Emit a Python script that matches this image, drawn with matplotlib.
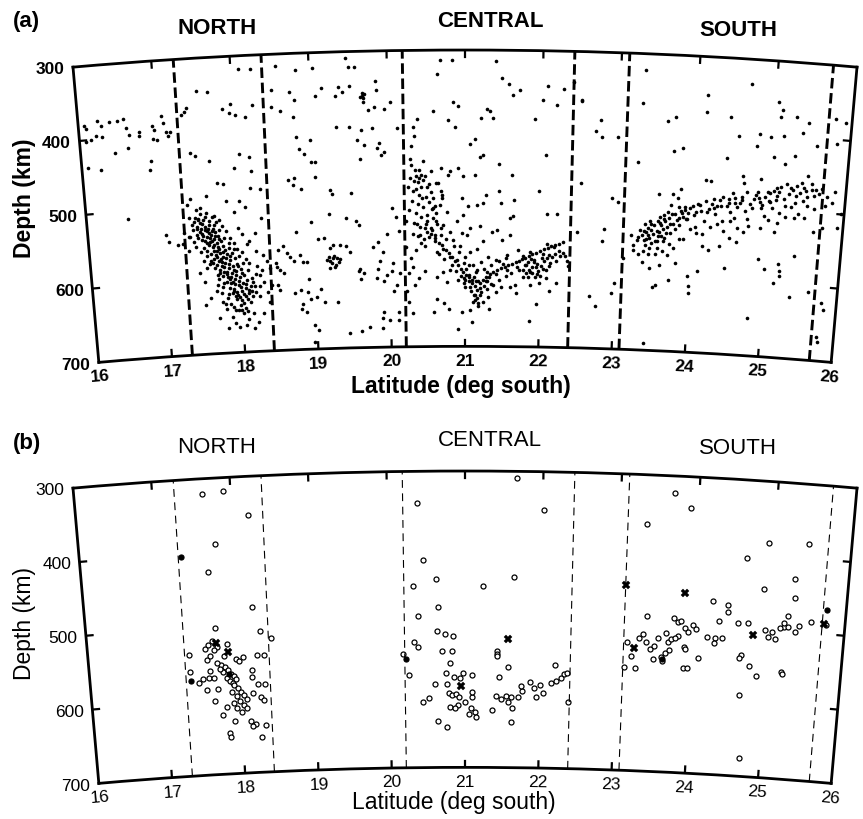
import numpy as np
import matplotlib
matplotlib.use("Agg")
import matplotlib.pyplot as plt

plt.rcParams['font.family'] = ['Liberation Sans', 'DejaVu Sans']

EARTH_R = 6371.0
lat_ticks = list(range(16, 27))
depth_ticks = [300, 400, 500, 600, 700]
region_names = ["NORTH", "CENTRAL", "SOUTH"]
region_lat = [17.86, 21.32, 24.46]
boundaries = [17.28, 18.4, 20.2, 22.4, 23.1, 25.7]

# ---- panel (a): all events, (lat deg south, depth km)
a_far_north = [(16.08,380),(16.1,385),(16.25,375),(16.3,382),(16.4,378),(16.5,377),(16.58,375),
    (16.22,395),(16.3,397),(16.15,400),(16.08,402),(16.62,388),(16.65,397),(16.78,395),(16.78,400),
    (16.95,388),(16.97,393),(16.95,405),(17.0,407),(17.08,375),(17.1,385),(17.12,397),(17.18,397),
    (16.45,420),(16.62,415),(16.08,437),(16.25,442),(16.9,435),(16.88,447),(17.15,402),(16.55,511),
    (17.03,536),(17.07,545),(17.18,550)]
a_north_upper = [(17.55,344),(17.68,347),(17.34,375),(17.37,371),(17.4,366),(17.86,371),(17.97,364),
    (17.95,376),(18.03,380),(18.16,383),(18.26,367),(18.1,318),(18.25,318),(17.42,427),(17.48,432),
    (18.05,432),(18.18,437),(17.66,440),(17.98,451),(18.2,456),(17.75,470),(17.82,472),(18.18,479),
    (18.31,481),(18.02,496),(17.34,497),(17.38,490),(17.6,487),(17.85,495),(18.1,505),(18.3,520),
    (18.22,540),(17.35,515)]
a_north_scatter = [(17.25,549),(17.27,535),(17.33,541),(17.32,559),(17.45,531),(17.47,517),(17.51,503),
    (17.56,515),(17.69,514),(17.75,520),(17.95,510),(17.99,532),(18.04,541),(18.13,551),(18.1,555),
    (18.21,565),(18.3,570),(18.35,579),(18.39,588),(18.41,611),(18.35,620),(18.37,634),(18.28,648),
    (18.21,661),(18.15,668),(18.04,664),(17.95,666),(17.86,652),(17.8,666),(17.91,643),(17.78,634),
    (17.66,616),(17.69,607),(17.51,603),(17.55,584),(17.61,574),(17.51,574),(17.74,631),(17.99,643),
    (18.15,648),(18.24,625),(18.3,607),(17.51,634),(17.69,652),(18.25,597),(18.12,580),(17.45,590),
    (17.58,625),(18.08,655),(17.9,660)]
a_north_core = [(17.42,521),(17.47,518),(17.52,524),(17.45,527),(17.5,530),(17.56,528),(17.61,526),
    (17.4,532),(17.48,535),(17.55,533),(17.6,537),(17.66,531),(17.52,540),(17.58,542),(17.63,539),
    (17.69,536),(17.46,543),(17.55,547),(17.61,549),(17.67,545),(17.72,541),(17.59,553),(17.64,556),
    (17.7,551),(17.76,548),(17.53,556),(17.66,561),(17.72,559),(17.78,555),(17.62,565),(17.68,567),
    (17.74,564),(17.8,561),(17.86,558),(17.65,572),(17.71,575),(17.77,570),(17.83,567),(17.9,565),
    (17.69,580),(17.75,582),(17.8,578),(17.86,575),(17.93,572),(17.72,588),(17.78,590),(17.84,586),
    (17.9,583),(17.96,580),(17.76,596),(17.82,598),(17.88,593),(17.94,590),(18.0,588),(17.8,604),
    (17.86,606),(17.92,601),(17.98,598),(18.04,596),(17.84,612),(17.9,614),(17.96,609),(18.02,606),
    (18.08,603),(17.88,620),(17.95,622),(18.0,617),(18.06,614),(18.12,611),(17.93,628),(18.0,630),
    (18.05,625),(18.1,621),(17.98,636),(18.05,640),(18.11,633),(17.58,534),(17.64,548),(17.7,562),
    (17.76,577),(17.82,591),(17.88,605),(17.94,618),(17.5,546),(17.57,561),(17.63,578),(17.69,594),
    (17.75,610),(17.81,626),(17.62,520),(17.68,527),(17.74,534),(17.8,545),(17.86,552),(17.92,560),
    (17.98,570),(18.04,580),(18.1,590),(18.15,600),(18.18,612),(17.44,538),(17.4,548),(17.7,600),
    (17.73,618),(17.85,634),(17.78,640),(18.14,625),(18.2,595),(18.22,585),(17.38,525),(17.35,540)]
a_north_extra = [(17.43,515),(17.49,522),(17.54,519),(17.59,531),(17.64,534),(17.51,538),(17.57,550),
    (17.62,544),(17.68,541),(17.73,546),(17.66,553),(17.71,556),(17.77,563),(17.69,570),(17.74,573),
    (17.81,572),(17.87,569),(17.78,584),(17.84,580),(17.91,588),(17.97,584),(17.81,594),(17.87,598),
    (17.93,596),(18.01,593),(17.85,601),(17.91,608),(17.97,604),(18.06,608),(17.89,617),(17.99,612),
    (18.03,621),(18.09,617),(17.92,624),(17.97,625),(18.02,634),(18.08,628),(18.13,618),(17.95,643),
    (18.01,647),(18.07,645),(17.88,638),(17.82,620),(17.76,605),(17.72,592),(17.66,585),(17.6,578),
    (17.56,568),(17.48,562),(17.42,555),(18.16,606),(18.19,620),(18.25,612),(18.28,590),(18.08,575),
    (18.03,565),(17.97,560),(17.93,552),(17.88,545),(17.83,535),(17.78,528),(17.71,522),(17.66,515),
    (17.58,510),(17.5,511),(17.45,505)]
a_gap_upper = [(18.57,316),(18.83,323),(19.04,321),(19.47,309),(19.51,321),(19.58,321),(18.51,348),
    (19.15,348),(19.37,348),(19.51,346),(19.85,341),(18.74,352),(18.8,363),(19.07,359),(19.33,359),
    (19.42,355),(19.67,357),(19.69,363),(19.85,353),(19.68,368),(19.75,380),(19.83,376),(19.95,378),
    (20.03,369),(18.5,371),(18.61,377),(18.78,386),(19.33,402),(19.5,402),(19.65,406),(19.8,404),
    (20.12,404),(18.8,413),(18.99,418),(19.6,420),(19.69,427),(19.86,431),(19.95,436),(19.88,424),
    (18.84,429),(18.9,436),(18.99,448),(19.04,448),(19.63,445),(19.9,440),(18.68,470),(18.76,468),
    (18.74,477),(18.85,484),(19.04,468),(19.23,486),(19.5,491),(19.25,491),(19.67,360),(19.7,358),
    (19.65,362)]
a_gap_lower = [(18.51,564),(18.58,560),(18.62,569),(18.67,575),(18.71,580),(18.8,573),(18.84,582),
    (18.89,582),(18.47,582),(18.49,587),(18.53,591),(18.58,596),(18.49,612),(18.51,619),(18.71,623),
    (18.8,619),(18.91,605),(18.89,623),(18.93,632),(19.0,630),(19.07,619),(19.11,637),(19.04,551),
    (19.13,551),(19.2,564),(19.24,560),(19.33,561),(19.42,562),(19.47,570),(19.56,529),(19.6,534),
    (19.42,524),(19.2,519),(18.96,528),(18.76,541),(19.24,578),(19.2,582),(19.29,578),(19.22,585),
    (19.27,587),(19.33,580),(19.2,591),(19.16,580),(19.25,575),(19.31,583),(19.19,577),(19.26,590),
    (18.82,639),(18.8,646),(18.87,650),(18.96,668),(19.02,675),(18.96,691),(19.44,680),(19.6,678),
    (19.71,673),(19.89,674),(19.98,663),(19.29,637),(19.6,594),(19.64,599),(19.6,608),(19.58,596),
    (19.78,565),(19.84,558),(19.91,571),(19.87,584),(19.84,594),(19.82,607),(19.91,611),(19.96,603),
    (20.02,598),(20.04,587),(20.09,617),(20.04,625),(20.13,600),(20.13,543),(20.04,512),(20.09,524),
    (19.96,548),(19.89,660),(19.91,653),(20.11,664),(20.11,653)]
a_central_upper = [(20.68,314),(20.83,314),(21.39,314),(20.64,332),(21.47,338),(21.56,345),(21.71,353),
    (21.62,361),(22.07,348),(22.27,351),(22.4,341),(22.51,367),(22.0,367),(22.18,373),(21.28,379),
    (21.32,382),(21.21,392),(21.36,392),(20.59,382),(20.85,370),(20.91,376),(21.9,392),(20.87,404),
    (20.78,395),(21.13,420),(21.06,427),(22.05,441),(21.24,441),(21.19,445),(21.45,454),(21.62,469),
    (20.68,459),(20.64,479),(20.98,470),(21.13,468),(20.91,459),(20.78,468),(20.8,463),(20.68,490),
    (20.7,495),(21.28,495),(21.45,490),(21.97,490),(20.96,500),(21.65,502),(20.38,393),(20.32,403),
    (20.34,416),(20.3,429),(20.36,470),(20.4,473),(20.42,485)]
a_central_lower = [(20.22,530),(20.36,535),(20.31,548),(20.4,549),(20.47,540),(20.47,564),(20.31,593),
    (20.38,608),(20.47,598),(20.33,617),(20.58,513),(20.67,509),(20.76,518),(20.62,531),(20.56,543),
    (20.71,536),(20.6,549),(20.8,545),(20.89,531),(20.98,522),(21.04,511),(21.16,509),(21.24,506),
    (21.47,506),(21.6,527),(21.64,524),(22.09,520),(22.22,520),(21.07,540),(20.96,547),(21.02,549),
    (21.2,538),(21.36,545),(21.42,543),(21.49,556),(21.6,549),(21.24,558),(21.16,568),(21.07,572),
    (20.93,565),(20.84,556),(20.71,568),(20.62,572),(20.8,579),(20.89,583),(20.98,588),(21.11,590),
    (21.22,586),(21.31,579),(21.42,583),(21.51,588),(21.56,577),(21.71,570),(21.78,577),(21.87,572),
    (22.09,561),(22.18,565),(21.96,588),(21.69,593),(21.56,597),(21.42,602),(21.29,599),(21.16,597),
    (21.02,595),(20.8,597),(20.71,599),(20.62,606),(20.76,613),(20.91,611),(20.98,615),(21.07,620),
    (21.16,624),(21.13,631),(21.11,640),(21.18,645),(21.24,640),(21.31,633),(21.42,627),(21.49,620),
    (21.6,620),(21.67,617),(21.78,606),(21.87,599),(21.96,602),(22.04,595),(22.13,590),(22.22,583),
    (22.27,577),(22.31,572),(22.09,606),(22.0,613),(22.13,624),(22.22,613),(21.87,617),(21.38,617),
    (20.62,636),(20.71,642),(20.58,654),(20.78,649),(20.96,654),(21.07,651),(21.87,665),(20.91,676),
    (21.09,667),(21.33,649),(21.96,642),(21.69,627)]
a_central_core = [(20.3,455),(20.35,462),(20.42,468),(20.28,472),(20.38,478),(20.45,475),(20.5,485),
    (20.32,490),(20.4,495),(20.48,498),(20.55,492),(20.3,503),(20.38,508),(20.45,512),(20.52,505),
    (20.6,510),(20.35,520),(20.42,525),(20.5,522),(20.58,527),(20.33,533),(20.4,538),(20.48,535),
    (20.55,540),(20.63,535),(20.38,550),(20.45,555),(20.52,552),(20.6,558),(20.68,550),(20.28,447),
    (20.45,450),(20.55,463),(20.25,485),(20.62,480),(20.7,500),(20.26,515),(20.5,545),(20.42,560),
    (20.35,570),(20.28,580),(20.22,565),(20.25,600),(20.22,625),(20.25,640),(20.3,655),
    (21.8,590),(21.84,585),(21.88,582),(21.92,586),(21.95,592),(21.86,596),(21.82,600),(21.9,600),
    (21.98,598),(22.02,590),(22.05,584),(22.1,580),(22.14,586),(22.0,604),(21.94,606),(21.78,596),
    (22.08,596),(22.16,578),(22.2,574),(21.9,592),(22.04,575),(21.85,606),(22.33,576),(22.36,583),
    (22.38,590),(20.95,605),(21.0,610),(21.05,612),(21.1,615),(21.14,618),(21.2,621),(21.25,618),
    (21.3,622),(21.35,616),(21.05,603),(21.12,607),(21.18,612),(21.22,627),(21.16,635),(21.14,638),
    (21.17,641),(21.12,630),(21.28,612),(21.32,606),(21.0,620)]
a_central_extra = [(20.55,548),(20.6,553),(20.65,560),(20.7,563),(20.75,570),(20.78,574),(20.83,580),
    (20.86,585),(20.9,590),(20.94,596),(20.97,600),(21.02,604),(21.06,607),(21.1,610),(21.15,612),
    (21.2,614),(21.24,610),(21.28,606),(21.33,602),(21.38,600),(21.43,597),(21.48,594),(21.53,593),
    (21.58,590),(21.63,588),(21.68,586),(21.72,584),(21.76,582),(21.8,580),(21.85,577),(21.9,575),
    (21.95,573),(22.0,571),(22.05,568),(22.1,566),(22.15,563),(22.2,562),(22.25,560),(22.3,558),
    (20.65,575),(20.72,582),(20.82,590),(20.88,598),(20.98,608),(21.08,625),(21.2,630),(21.3,612),
    (21.45,610),(21.55,605),(21.62,600),(21.72,597),(21.82,590),(21.92,583),(22.03,580),(22.12,575),
    (22.25,570),(20.5,530),(20.57,515),(20.44,500),(20.36,487),(20.33,477),(20.4,462),(20.48,470),
    (20.53,480),(20.58,500),(20.62,520),(20.68,540),(20.75,555),(20.85,565),(20.92,572),(21.0,580),
    (21.05,590),(21.15,600),(21.25,595),(21.35,590),(21.45,585),(21.55,580)]
a_south_upper = [(23.31,322),(23.29,367),(24.12,352),(24.12,375),(24.44,380),(24.68,333),(25.04,355),
    (25.1,366),(25.08,375),(25.29,373),(25.44,380),(23.63,389),(23.73,384),(24.55,404),(24.82,400),
    (24.8,416),(24.97,403),(25.14,400),(25.38,394),(25.57,410),(25.83,406),(25.79,372),(25.92,376),
    (23.72,430),(23.84,425),(24.42,435),(25.02,430),(25.17,438),(25.3,426),(24.16,466),(24.23,468),
    (24.64,458),(24.66,467),(24.88,461),(24.86,486),(25.0,478),(25.09,471),(25.22,465),(25.35,467),
    (25.48,452),(25.55,470),(23.84,481),(23.73,488),(23.55,489),(23.26,446),(22.76,392),(22.78,415),
    (22.99,414),(22.51,366),(22.7,406),(22.52,477),(22.93,497)]
a_south_lower = [(22.49,543),(22.67,630),(22.76,643),(22.84,539),(22.82,555),(22.96,625),(23.0,611),
    (23.02,502),(23.11,577),(23.2,546),(23.24,559),(23.28,552),(23.37,539),(23.46,530),(23.55,525),
    (23.63,516),(23.72,502),(23.81,493),(23.9,509),(23.37,566),(23.44,570),(23.55,561),(23.63,552),
    (23.72,541),(23.83,529),(23.94,520),(23.98,534),(24.07,538),(24.16,522),(24.2,509),(24.29,504),
    (24.38,500),(24.47,490),(24.56,495),(24.64,486),(24.78,500),(24.91,495),(25.0,490),(25.09,488),
    (25.22,495),(25.35,490),(25.44,486),(25.4,504),(25.22,509),(25.13,518),(25.09,531),(24.33,525),
    (24.51,520),(24.73,516),(24.6,529),(24.42,534),(24.16,556),(24.24,561),(24.38,554),(24.51,543),
    (24.6,547),(24.69,534),(24.91,527),(25.0,515),(25.48,509),(25.61,527),(25.72,520),(25.74,490),
    (25.83,486),(25.96,500),(25.92,518),(23.77,561),(23.9,547),(23.6,584),(23.46,589),(23.81,581),
    (23.72,604),(23.98,597),(24.0,611),(24.11,590),(24.47,584),(24.91,568),(25.0,581),(25.18,574),
    (25.2,583),(25.2,590),(25.38,561),(25.13,599),(25.36,617),(25.61,608),(25.79,622),(25.83,631),
    (25.77,667),(25.79,674),(24.82,649),(24.0,620),(23.42,690),(23.55,611),(23.51,615),(23.31,570),
    (23.37,581),(23.24,566)]
a_south_core = [(23.35,545),(23.4,540),(23.42,535),(23.45,548),(23.5,543),(23.5,530),(23.55,538),
    (23.58,528),(23.6,545),(23.62,535),(23.65,525),(23.68,532),(23.7,520),(23.75,528),(23.78,515),
    (23.8,522),(23.85,510),(23.88,518),(23.9,505),(23.95,512),(24.0,503),(24.05,510),(23.48,555),
    (23.55,552),(23.4,558),(23.65,548),(23.72,555),(23.58,520),(23.68,512),(23.82,505),(24.1,500),
    (23.3,548),(23.38,552),(23.45,525),(24.25,498),(24.35,492),(24.45,500),(24.55,488),(24.62,495),
    (24.7,480),(24.8,488),(24.85,478),(24.95,485),(25.05,475),(25.1,482),(25.15,470),(25.25,478),
    (25.3,472),(25.4,476),(25.45,468),(25.5,480),(25.55,462),(25.6,470),(25.65,475),(24.3,512),
    (24.5,508),(24.7,505),(24.9,500),(25.05,498),(25.3,496),(25.5,492)]
a_south_extra = [(23.32,538),(23.38,530),(23.43,545),(23.47,538),(23.52,552),(23.56,545),(23.6,530),
    (23.63,522),(23.67,540),(23.71,528),(23.74,515),(23.78,535),(23.83,520),(23.87,512),(23.92,520),
    (23.97,505),(24.02,515),(24.07,500),(24.12,508),(24.18,495),(24.22,505),(24.28,492),(24.32,500),
    (24.4,488),(24.48,495),(24.52,482),(24.58,500),(24.65,490),(24.75,495),(24.82,482),(24.88,492),
    (24.98,478),(25.02,490),(25.12,477),(25.2,485),(25.28,470),(25.35,480),(25.42,462),(25.48,472),
    (25.58,478),(25.68,468),(25.76,478),(25.85,470),(23.45,562),(23.53,570),(23.62,565),(23.7,570),
    (23.85,548),(24.05,530),(24.15,540),(24.25,530),(24.4,520),(24.55,515),(24.75,525),(24.95,510),
    (25.15,505),(25.35,510),(25.6,495),(23.4,550),(23.58,540)]

# ---- panel (b): relocated events (circles), crosses and a few solid dots
b_north = [(17.63,321),(17.91,318),(18.21,352),(17.77,389),(17.65,426),(18.2,477),(17.71,502),
    (17.34,537),(17.34,560),(17.55,585),(17.5,570),(17.58,569),(17.65,570),(17.55,530),(17.6,525),
    (17.65,520),(17.72,528),(17.8,540),(17.57,545),(17.62,540),(17.68,532),(17.85,525),(17.76,553),
    (17.8,556),(17.84,560),(17.88,565),(17.92,568),(17.78,562),(17.82,570),(17.86,575),(17.9,577),
    (17.95,573),(17.74,558),(17.92,580),(17.96,585),(18.0,590),(18.04,595),(18.08,600),(17.95,595),
    (17.98,603),(18.03,608),(18.07,612),(17.9,605),(17.93,612),(18.0,618),(17.88,590),(18.12,630),
    (18.18,634),(18.14,637),(17.9,629),(17.83,645),(17.83,650),(18.25,652),(18.32,636),(18.3,510),
    (18.44,520),(18.24,542),(18.33,542),(18.16,562),(18.16,571),(18.23,581),(18.33,581),(18.16,592),
    (18.26,598),(18.3,603),(17.96,545),(18.0,548),(18.05,543),(17.7,550),(17.6,560),(17.7,585),
    (17.45,575),(17.65,600),(17.8,610),(17.75,620)]
b_central = [(20.38,343),(20.46,420),(20.32,455),(20.38,496),(21.66,309),(22.02,352),(20.62,445),
    (21.23,455),(21.64,443),(20.64,483),(20.63,516),(20.73,520),(20.84,523),(20.7,543),(20.83,543),
    (20.8,559),(20.74,572),(20.85,578),(20.97,572),(21.1,575),(20.6,587),(20.76,587),(20.93,580),
    (20.78,600),(20.82,602),(20.88,601),(20.92,605),(21.0,612),(21.1,605),(20.9,616),(20.8,618),
    (20.86,620),(21.1,598),(21.08,620),(21.13,625),(21.05,628),(21.15,632),(20.64,637),(20.76,646),
    (21.36,623),(21.42,543),(21.43,547),(21.42,550),(21.57,564),(21.46,578),(21.42,603),(21.48,608),
    (21.55,603),(21.62,605),(21.58,612),(21.63,620),(21.62,639),(21.71,604),(21.77,597),(21.75,590),
    (21.87,584),(21.92,592),(22.0,588),(22.05,599),(22.15,585),(22.22,582),(22.28,578),(22.32,573),
    (22.36,571),(22.2,560),(21.95,604),(22.38,610),(20.33,530),(20.38,537),(20.25,575),(20.44,612),
    (20.52,606),(20.18,546)]
b_south = [(23.68,323),(23.9,342),(23.34,366),(24.93,383),(25.45,380),(24.66,405),(25.3,429),
    (24.9,446),(25.32,455),(24.25,466),(24.45,470),(24.45,480),(23.4,491),(23.75,491),(24.35,493),
    (24.6,493),(24.72,493),(25.25,480),(25.2,495),(25.25,495),(25.75,488),(23.15,527),(23.2,545),
    (23.27,561),(23.12,560),(23.3,520),(23.35,515),(23.4,525),(23.45,535),(23.5,530),(23.55,520),
    (23.6,545),(23.65,540),(23.62,550),(23.5,548),(23.68,525),(23.7,535),(23.72,520),(23.65,512),
    (23.8,497),(23.85,495),(23.9,505),(23.82,515),(23.78,518),(23.95,510),(24.0,500),(24.05,505),
    (23.9,530),(23.92,532),(23.9,558),(23.95,558),(24.1,544),(24.2,515),(24.3,515),(24.4,515),
    (24.3,523),(24.66,537),(24.64,540),(24.77,551),(24.88,563),(24.67,590),(24.72,676),(24.95,500),
    (25.05,503),(25.15,497),(25.0,510),(25.1,512),(25.2,556),(25.22,558),(25.2,489),(25.4,492),
    (25.35,500),(25.55,485)]
b_solid = [(17.32,404),(17.35,571),(20.22,553),(25.75,467),(23.62,548),(17.85,565)]
b_cross = [(17.7,523),(17.86,535),(20.95,590),(21.57,527),(23.1,450),(23.88,457),(23.24,535),
    (24.8,508),(25.72,486)]


def polar_xy(points):
    lat = np.array([p[0] for p in points])
    dep = np.array([p[1] for p in points])
    return np.deg2rad(lat), EARTH_R - dep


def make_panel(rect, bold):
    ax = fig.add_axes(rect, projection='polar')
    ax.set_theta_direction(-1)
    ax.set_theta_offset(np.deg2rad(111))
    ax.set_thetamin(16)
    ax.set_thetamax(26)
    ax.set_rorigin(0)
    r_top, r_bot = EARTH_R - 300, EARTH_R - 700
    ax.set_ylim(r_bot, r_top)
    ax.grid(False)
    ax.set_xticks([])
    ax.set_yticks([])
    for s in ax.spines.values():
        s.set_linewidth(2.0)
    # inward ticks on the four edges
    tk = 9.0
    for lat in lat_ticks[1:-1]:
        th = np.deg2rad(lat)
        ax.plot([th, th], [r_top, r_top - tk], color='black', lw=1.6, zorder=5)
        ax.plot([th, th], [r_bot, r_bot + tk], color='black', lw=1.6, zorder=5)
    for d in depth_ticks[1:-1]:
        r = EARTH_R - d
        dth = tk / r
        ax.plot([np.deg2rad(16), np.deg2rad(16) + dth], [r, r], color='black', lw=1.6, zorder=5)
        ax.plot([np.deg2rad(26) - dth, np.deg2rad(26)], [r, r], color='black', lw=1.6, zorder=5)
    fw = 'bold' if bold else 'normal'
    for lat in lat_ticks:
        ax.text(np.deg2rad(lat), r_bot - 20, str(lat), rotation=21 - lat,
                rotation_mode='anchor', ha='center', va='center', fontsize=12.5, fontweight=fw)
    for d in depth_ticks:
        ax.annotate(str(d), xy=(np.deg2rad(16), EARTH_R - d), xytext=(-6, -2),
                    textcoords='offset points', ha='right', va='center',
                    fontsize=12.5, fontweight=fw, annotation_clip=False)
    return ax


fig = plt.figure(figsize=(8.63, 8.19), dpi=100)
side_w = 784 / 863
side_h = 784 / 819
left = (465 - 392) / 863
ax_a = make_panel([left, 1 - (206.2 + 392) / 819, side_w, side_h], True)
ax_b = make_panel([left, 1 - (627.2 + 392) / 819, side_w, side_h], False)

# panel (a)
for grp in [a_far_north, a_north_upper, a_north_scatter, a_north_core, a_north_extra, a_gap_upper,
            a_gap_lower, a_central_upper, a_central_lower, a_central_core, a_central_extra,
            a_south_upper, a_south_lower, a_south_core, a_south_extra]:
    th, r = polar_xy(grp)
    ax_a.plot(th, r, ls='none', marker='o', ms=2.6, mew=0, color='black')
for b in boundaries:
    ax_a.plot([np.deg2rad(b)] * 2, [EARTH_R - 700, EARTH_R - 300], color='black', lw=2.1,
              dashes=(3.6, 1.6))

# panel (b)
for grp in [b_north, b_central, b_south]:
    th, r = polar_xy(grp)
    ax_b.plot(th, r, ls='none', marker='o', ms=3.6, mew=0.9, mfc='white', mec='black')
th, r = polar_xy(b_solid)
ax_b.plot(th, r, ls='none', marker='o', ms=3.6, mew=0.9, mfc='black', mec='black')
th, r = polar_xy(b_cross)
ax_b.plot(th, r, ls='none', marker='X', ms=6, mew=0.3, color='black')
for b in boundaries:
    ax_b.plot([np.deg2rad(b)] * 2, [EARTH_R - 700, EARTH_R - 300], color='black', lw=0.8,
              dashes=(7, 5))

# region names above the arcs
for name, lat in zip(region_names, region_lat):
    ax_a.text(np.deg2rad(lat), EARTH_R - 300 + 38, name, ha='center', va='center',
              fontsize=16, fontweight='bold')
    ax_b.text(np.deg2rad(lat), EARTH_R - 300 + 41, name, ha='center', va='center',
              fontsize=16)

fig.text(13 / 863, 1 - 22 / 819, '(a)', fontsize=16, fontweight='bold', ha='left', va='center')
fig.text(13 / 863, 1 - 443 / 819, '(b)', fontsize=16, fontweight='bold', ha='left', va='center')
fig.text(24 / 863, 1 - 198 / 819, 'Depth (km)', rotation=90, fontsize=16.5, fontweight='bold',
         ha='center', va='center')
fig.text(24 / 863, 1 - 623 / 819, 'Depth (km)', rotation=90, fontsize=16.5, ha='center', va='center')
fig.text(461 / 863, 1 - 387 / 819, 'Latitude (deg south)', fontsize=16.5, fontweight='bold',
         ha='center', va='center')
fig.text(454 / 863, 1 - 803 / 819, 'Latitude (deg south)', fontsize=16.5, ha='center', va='center')

fig.savefig('out.png', dpi=100)
